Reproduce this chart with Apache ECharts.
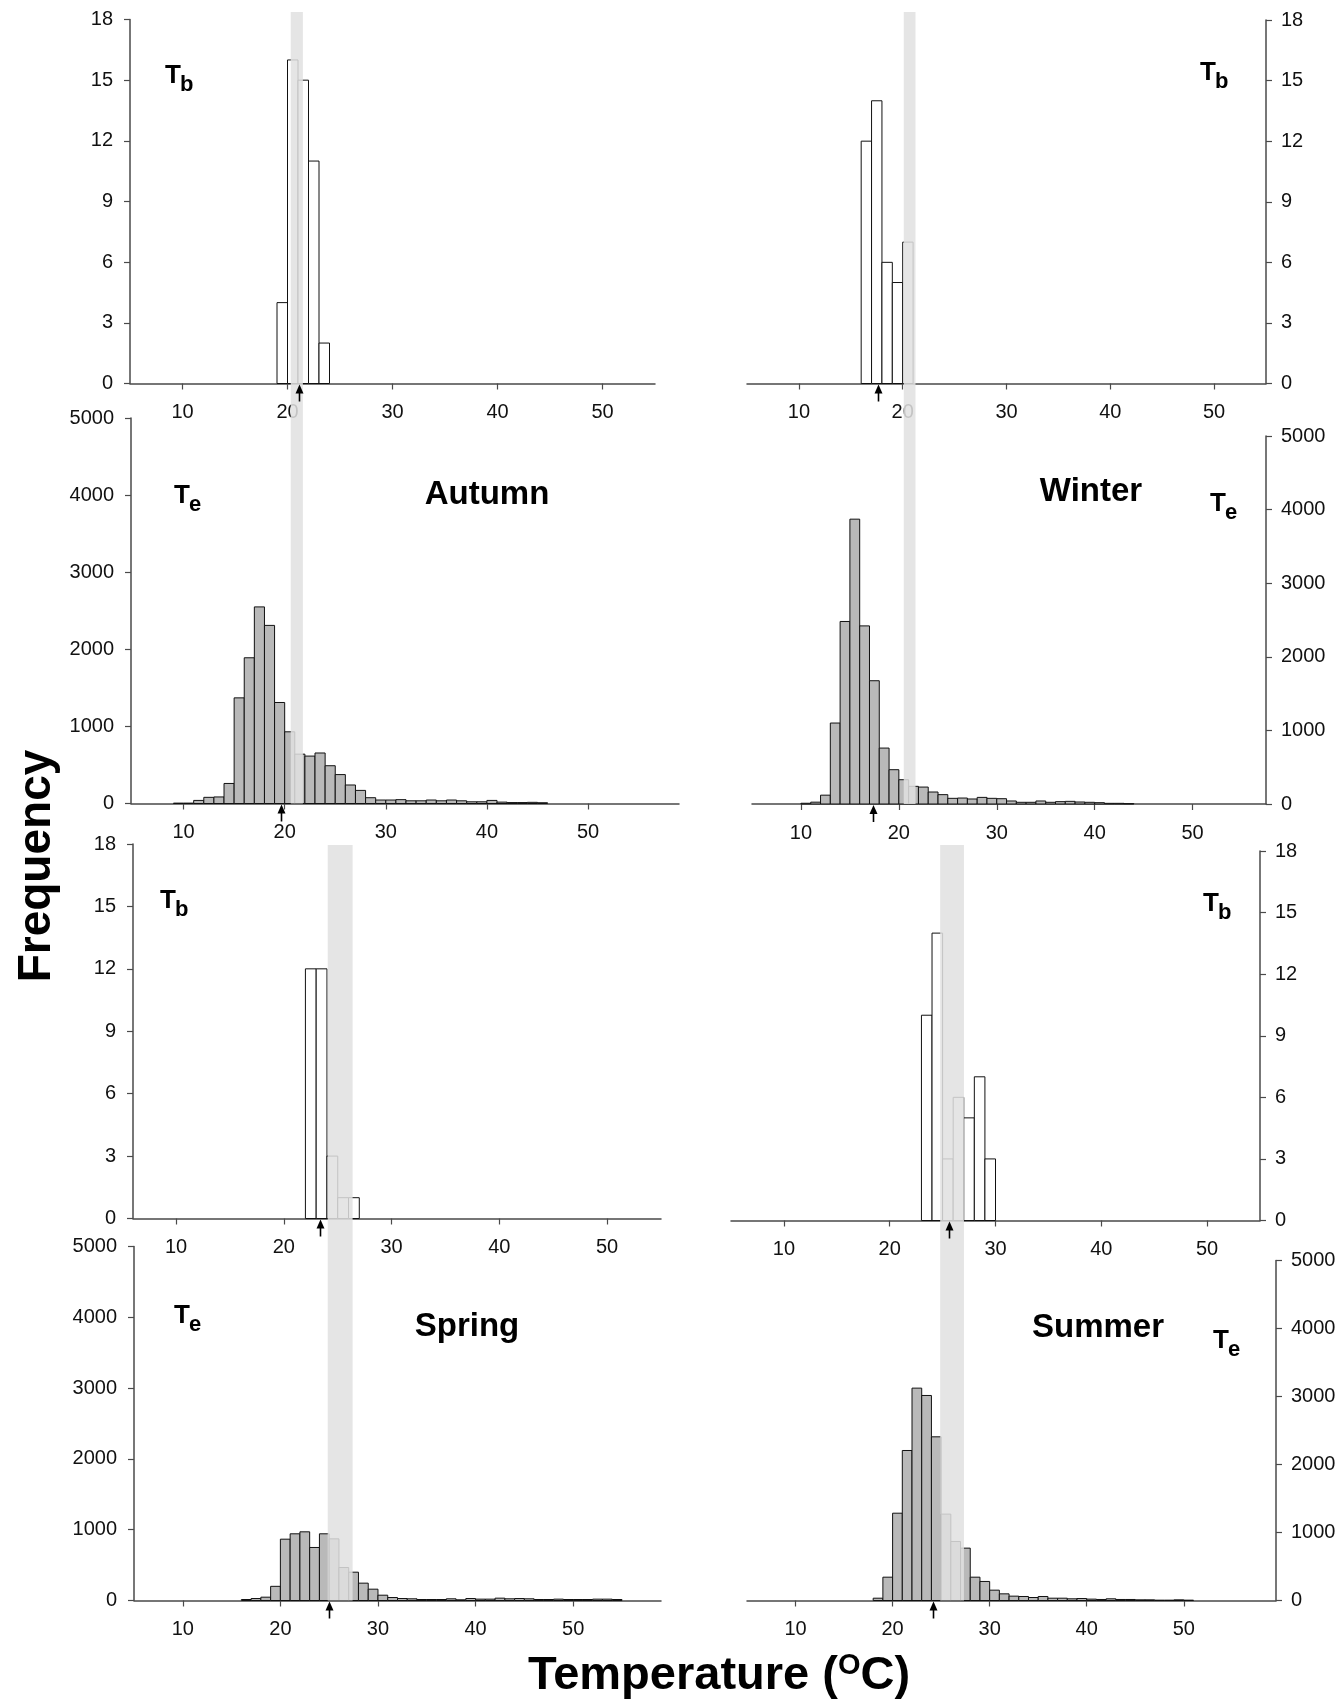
<!DOCTYPE html>
<html>
<head>
<meta charset="utf-8">
<script src="https://cdn.jsdelivr.net/npm/echarts@6/dist/echarts.min.js"></script>
<style>
  html, body { margin: 0; padding: 0; background: #fff; }
  #chart { width: 1341px; height: 1702px; }
</style>
</head>
<body>
<div id="chart"></div>
<script>
// ---- data: 1 degree bins, each array starts at the given bin ----
var xTicks = [10, 20, 30, 40, 50];
var tbTicks = [0, 3, 6, 9, 12, 15, 18];
var teTicks = [0, 1000, 2000, 3000, 4000, 5000];

var autumnTbStart = 19;
var autumnTb = [4, 16, 15, 11, 2];
var autumnTeStart = 9;
var autumnTe = [5, 5, 40, 80, 85, 260, 1370, 1890, 2550, 2310, 1310, 930, 640, 615, 655, 490, 375, 240, 170, 75,
                45, 45, 50, 35, 35, 45, 35, 45, 35, 22, 22, 40, 18, 12, 12, 15, 10];

var winterTbStart = 16;
var winterTb = [12, 14, 6, 5, 7];
var winterTeStart = 10;
var winterTe = [10, 25, 120, 1100, 2480, 3870, 2420, 1675, 760, 466, 330, 240, 230, 163, 127, 77, 81, 68, 90, 77,
                72, 41, 23, 23, 41, 23, 32, 36, 27, 23, 18, 9, 9, 5];

var springTbStart = 22;
var springTb = [12, 12, 3, 1, 1];
var springTeStart = 16;
var springTe = [14, 28, 47, 200, 866, 942, 970, 749, 942, 871, 466, 400, 245, 160, 75, 42, 28, 24, 14, 14,
                14, 24, 10, 28, 19, 19, 33, 24, 28, 24, 14, 14, 19, 14, 14, 14, 19, 19, 14];

var summerTbStart = 23;
var summerTb = [10, 14, 3, 6, 5, 7, 3];
var summerTeStart = 18;
var summerTe = [34, 343, 1284, 2206, 3123, 3015, 2407, 1270, 868, 770, 343, 280, 152, 98, 64, 59, 44, 59, 34, 34,
                25, 29, 20, 15, 25, 15, 15, 10, 10, 5, 5, 10, 5];

// mean temperatures marked by arrows: [Tb, Te]
var autumnArrows = [21.1, 19.6];
var winterArrows = [17.6, 17.4];
var springArrows = [23.4, 25.0];
var summerArrows = [25.6, 24.2];

// shaded band (Te axis units)
var autumnBand = [20.6, 21.8];
var winterBand = [20.5, 21.7];
var springBand = [24.85, 27.4];
var summerBand = [24.9, 27.35];

// ---- layout ----
var FONT = 'Liberation Sans, Arial, sans-serif';
var AXIS = '#4a4a4a';

var panels = [
  {start: autumnTbStart, counts: autumnTb, arrow: autumnArrows[0], kind: 'Tb', side: 'left',
   left: 130, top: 19.5, width: 525, height: 364, xMin: 5, xMax: 55},
  {start: autumnTeStart, counts: autumnTe, arrow: autumnArrows[1], kind: 'Te', side: 'left',
   left: 131, top: 418, width: 548, height: 385.5, xMin: 4.8, xMax: 59, band: autumnBand, bandTop: 12},
  {start: winterTbStart, counts: winterTb, arrow: winterArrows[0], kind: 'Tb', side: 'right',
   left: 747, top: 20, width: 519, height: 363.5, xMin: 5, xMax: 55},
  {start: winterTeStart, counts: winterTe, arrow: winterArrows[1], kind: 'Te', side: 'right',
   left: 752, top: 436, width: 514, height: 368, xMin: 5, xMax: 57.5, band: winterBand, bandTop: 12},
  {start: springTbStart, counts: springTb, arrow: springArrows[0], kind: 'Tb', side: 'left',
   left: 133, top: 844, width: 528, height: 374.5, xMin: 6, xMax: 55},
  {start: springTeStart, counts: springTe, arrow: springArrows[1], kind: 'Te', side: 'left',
   left: 134, top: 1246.5, width: 527, height: 354, xMin: 5, xMax: 59, band: springBand, bandTop: 845},
  {start: summerTbStart, counts: summerTb, arrow: summerArrows[0], kind: 'Tb', side: 'right',
   left: 731, top: 851, width: 529, height: 369.5, xMin: 5, xMax: 55},
  {start: summerTeStart, counts: summerTe, arrow: summerArrows[1], kind: 'Te', side: 'right',
   left: 747, top: 1260.5, width: 529, height: 340, xMin: 5, xMax: 59.5, band: summerBand, bandTop: 845}
];

function histRender(fill, stroke) {
  return function (params, api) {
    var x0 = api.value(0);
    var tl = api.coord([x0, api.value(1)]);
    var br = api.coord([x0 + 1, 0]);
    return {
      type: 'rect',
      shape: {x: tl[0], y: tl[1], width: br[0] - tl[0], height: br[1] - tl[1]},
      style: {fill: fill, stroke: stroke, lineWidth: 1}
    };
  };
}

function arrowRender(params, api) {
  var p = api.coord([api.value(0), 0]);
  var x = Math.round(p[0]) + 0.5, y = p[1];
  return {
    type: 'group',
    children: [
      {type: 'line', shape: {x1: x, y1: y + 6, x2: x, y2: y + 18}, style: {stroke: '#000', lineWidth: 1.6}},
      {type: 'polygon', shape: {points: [[x, y + 1], [x - 4, y + 10], [x + 4, y + 10]]}, style: {fill: '#000'}}
    ]
  };
}

function bandRender(topPx) {
  return function (params, api) {
    var a = api.coord([api.value(0), 0]);
    var b = api.coord([api.value(1), 0]);
    return {
      type: 'rect',
      shape: {x: a[0], y: topPx, width: b[0] - a[0], height: a[1] - topPx},
      style: {fill: '#e1e1e1', opacity: 0.86}
    };
  };
}

var grids = [], xAxes = [], yAxes = [], series = [];

panels.forEach(function (p, i) {
  var isTb = p.kind === 'Tb';
  grids.push({left: p.left, top: p.top, width: p.width, height: p.height, containLabel: false});
  xAxes.push({
    gridIndex: i, type: 'value', min: p.xMin, max: p.xMax,
    axisLine: {show: true, onZero: false, lineStyle: {color: AXIS, width: 1.5}},
    axisTick: {show: true, length: 6, customValues: xTicks, lineStyle: {color: AXIS, width: 1.2}},
    axisLabel: {customValues: xTicks, margin: 19, color: '#111', fontSize: 20, fontFamily: FONT},
    splitLine: {show: false}
  });
  yAxes.push({
    gridIndex: i, type: 'value', position: p.side, min: 0,
    max: isTb ? 18 : 5000, interval: isTb ? 3 : 1000,
    axisLine: {show: true, lineStyle: {color: AXIS, width: 1.5}},
    axisTick: {show: true, length: 6, lineStyle: {color: AXIS, width: 1.2}},
    axisLabel: {margin: p.side === 'left' ? 17 : 15, color: '#111', fontSize: 20, fontFamily: FONT,
      formatter: function (v) { return String(v); }},
    splitLine: {show: false}
  });
  series.push({
    type: 'custom', xAxisIndex: i, yAxisIndex: i, silent: true, z: 2,
    renderItem: isTb ? histRender('#ffffff', '#111') : histRender('#b9b9b9', '#111'),
    encode: {x: 0, y: 1},
    data: p.counts.map(function (c, k) { return [p.start + k, c]; })
  });
  series.push({
    type: 'custom', xAxisIndex: i, yAxisIndex: i, silent: true, z: 6,
    renderItem: arrowRender, encode: {x: 0, y: 1},
    data: [[p.arrow, 0]]
  });
  if (p.band) {
    series.push({
      type: 'custom', xAxisIndex: i, yAxisIndex: i, silent: true, z: 4,
      renderItem: bandRender(p.bandTop), encode: {x: [0, 1], y: 2},
      data: [[p.band[0], p.band[1], 0]]
    });
  }
});

// ---- text annotations ----
var graphics = [];
function subLabel(x, base, main, sub) {
  graphics.push({type: 'text', x: x, y: base - 9, z: 10,
    style: {text: main, font: 'bold 26px ' + FONT, fill: '#000', verticalAlign: 'middle'}});
  graphics.push({type: 'text', x: x + 15, y: base + 7 - 7.5, z: 10,
    style: {text: sub, font: 'bold 22px ' + FONT, fill: '#000', verticalAlign: 'middle'}});
}
function title(cx, base, text) {
  graphics.push({type: 'text', x: cx, y: base - 11.5, z: 10,
    style: {text: text, font: 'bold 33px ' + FONT, fill: '#000', align: 'center', verticalAlign: 'middle'}});
}
subLabel(165, 85, 'T', 'b');
subLabel(174, 505, 'T', 'e');
title(487, 506, 'Autumn');
subLabel(1200, 82, 'T', 'b');
subLabel(1210, 513, 'T', 'e');
title(1091, 503, 'Winter');
subLabel(160, 910, 'T', 'b');
subLabel(174, 1325, 'T', 'e');
title(467, 1338, 'Spring');
subLabel(1203, 913, 'T', 'b');
subLabel(1213, 1350, 'T', 'e');
title(1098, 1339, 'Summer');

graphics.push({type: 'text', x: 37, y: 866, rotation: Math.PI / 2, z: 10,
  style: {text: 'Frequency', font: 'bold 46px ' + FONT, fill: '#000', align: 'center', verticalAlign: 'middle'}});
graphics.push({type: 'text', x: 719, y: 1676, z: 10,
  style: {text: '{a|Temperature (}{s|O}{a|C)}', fill: '#000', align: 'center', verticalAlign: 'middle',
    rich: {
      a: {font: 'bold 47px ' + FONT, fill: '#000'},
      s: {font: 'bold 29px ' + FONT, fill: '#000', padding: [0, 0, 20, 0]}
    }}});

var chart = echarts.init(document.getElementById('chart'));
chart.setOption({
  animation: false,
  backgroundColor: '#fff',
  grid: grids,
  xAxis: xAxes,
  yAxis: yAxes,
  series: series,
  graphic: graphics
});
</script>
</body>
</html>
